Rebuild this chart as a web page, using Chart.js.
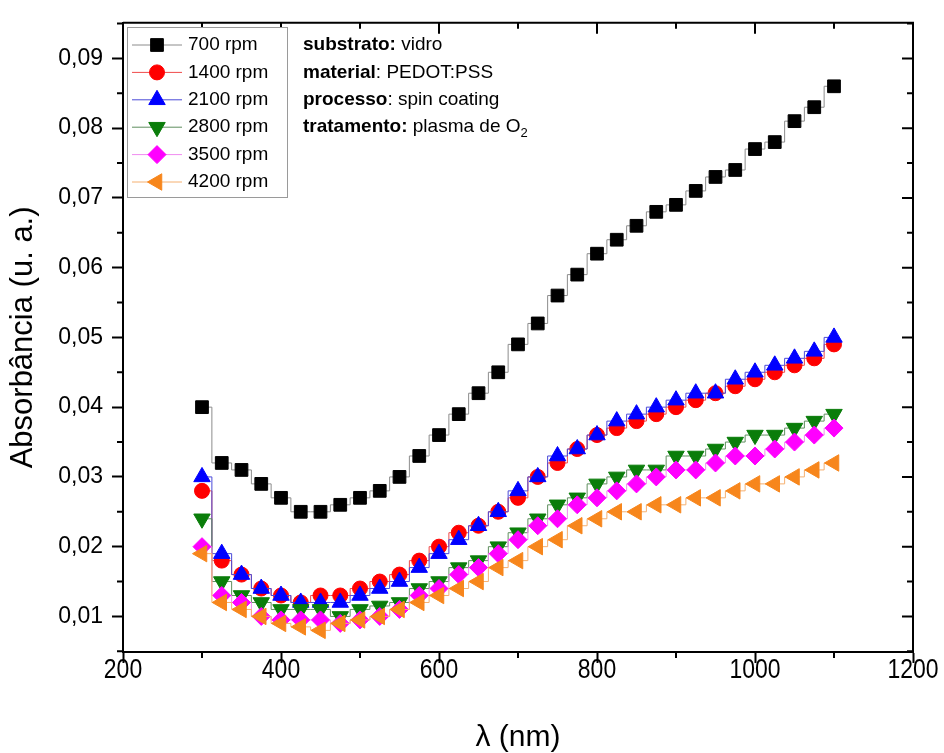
<!DOCTYPE html>
<html>
<head>
<meta charset="utf-8">
<title>Absorbância - PEDOT:PSS</title>
<script src="https://cdn.jsdelivr.net/npm/chart.js"></script>
<style>
  html, body { margin: 0; padding: 0; background: #fff; }
  #wrap { width: 944px; height: 753px; }
</style>
</head>
<body>
<div id="wrap"><canvas id="absChart" width="944" height="753"></canvas></div>
<script>
// --- values (nm, u. a.) ---
const wavelengths = [300, 325, 350, 375, 400, 425, 450, 475, 500, 525, 550, 575, 600, 625, 650, 675, 700,
                     725, 750, 775, 800, 825, 850, 875, 900, 925, 950, 975, 1000, 1025, 1050, 1075, 1100];

const abs700  = [0.040, 0.032, 0.031, 0.029, 0.027, 0.025, 0.025, 0.026, 0.027, 0.028, 0.030, 0.033, 0.036, 0.039, 0.042, 0.045, 0.049,
                 0.052, 0.056, 0.059, 0.062, 0.064, 0.066, 0.068, 0.069, 0.071, 0.073, 0.074, 0.077, 0.078, 0.081, 0.083, 0.086];
const abs1400 = [0.028, 0.018, 0.016, 0.014, 0.013, 0.012, 0.013, 0.013, 0.014, 0.015, 0.016, 0.018, 0.020, 0.022, 0.023, 0.025, 0.027,
                 0.030, 0.032, 0.034, 0.036, 0.037, 0.038, 0.039, 0.040, 0.041, 0.042, 0.043, 0.044, 0.045, 0.046, 0.047, 0.049];
const abs2100 = [0.030, 0.019, 0.016, 0.014, 0.013, 0.012, 0.012, 0.012, 0.013, 0.014, 0.015, 0.017, 0.019, 0.021, 0.023, 0.025, 0.028,
                 0.030, 0.033, 0.034, 0.036, 0.038, 0.039, 0.040, 0.041, 0.042, 0.042, 0.044, 0.045, 0.046, 0.047, 0.048, 0.050];
const abs2800 = [0.024, 0.015, 0.013, 0.012, 0.011, 0.011, 0.011, 0.010, 0.011, 0.0115, 0.012, 0.014, 0.015, 0.017, 0.018, 0.020, 0.022,
                 0.024, 0.026, 0.027, 0.029, 0.030, 0.031, 0.031, 0.033, 0.033, 0.034, 0.035, 0.036, 0.036, 0.037, 0.038, 0.039];
const abs3500 = [0.020, 0.013, 0.012, 0.010, 0.0095, 0.0095, 0.0095, 0.009, 0.0095, 0.010, 0.011, 0.013, 0.014, 0.016, 0.017, 0.019, 0.021,
                 0.023, 0.024, 0.026, 0.027, 0.028, 0.029, 0.030, 0.031, 0.031, 0.032, 0.033, 0.033, 0.034, 0.035, 0.036, 0.037];
const abs4200 = [0.019, 0.012, 0.011, 0.010, 0.009, 0.0085, 0.008, 0.009, 0.0095, 0.010, 0.011, 0.012, 0.013, 0.014, 0.015, 0.017, 0.018,
                 0.020, 0.021, 0.023, 0.024, 0.025, 0.025, 0.026, 0.026, 0.027, 0.027, 0.028, 0.029, 0.029, 0.030, 0.031, 0.032];

const seriesLabels = ['700 rpm', '1400 rpm', '2100 rpm', '2800 rpm', '3500 rpm', '4200 rpm'];
const seriesValues = [abs700, abs1400, abs2100, abs2800, abs3500, abs4200];

const xTickValues  = [200, 400, 600, 800, 1000, 1200];
const xMinorValues = [300, 500, 700, 900, 1100];
const yTickValues  = [0.01, 0.02, 0.03, 0.04, 0.05, 0.06, 0.07, 0.08, 0.09];
const yMinorValues = [0.005, 0.015, 0.025, 0.035, 0.045, 0.055, 0.065, 0.075, 0.085, 0.095];

// text block in the upper part of the plot
const infoLines = [
    [{ t: 'substrato:', b: true }, { t: ' vidro' }],
    [{ t: 'material', b: true }, { t: ': PEDOT:PSS' }],
    [{ t: 'processo', b: true }, { t: ': spin coating' }],
    [{ t: 'tratamento:', b: true }, { t: ' plasma de O' }, { t: '2', sub: true }]
];

// marker look per series (Origin-like)
const markerColors = ['#000000', '#ff0000', '#0000ff', '#0a7d0a', '#ff00ff', '#f7861c'];
const lineColors   = ['#8c8c8c', '#f04a4a', '#4a4ad8', '#5f8f5f', '#f08cf0', '#f5b070'];
const markerStyles = ['rect', 'circle', 'triangle', 'triangle', 'rectRot', 'triangle'];
const markerRot    = [0, 0, 0, 180, 0, -90];
const markerRadius = [9, 7.5, 9.5, 9.5, 9, 9.5];

const FONT = "'Liberation Sans', Arial, sans-serif";

// draws a marker (used for the hand-made legend)
function drawMarker(ctx, i, x, y) {
    ctx.fillStyle = markerColors[i];
    ctx.strokeStyle = markerColors[i];
    Chart.helpers.drawPoint(ctx, {
        pointStyle: markerStyles[i],
        rotation: markerRot[i],
        radius: markerRadius[i],
        borderWidth: 1
    }, x, y);
}

function drawRichLine(ctx, parts, x, y) {
    let cx = x;
    parts.forEach(p => {
        if (p.sub) {
            ctx.font = '13px ' + FONT;
            ctx.fillText(p.t, cx, y + 6);
        } else {
            ctx.font = (p.b ? 'bold ' : '') + '19px ' + FONT;
            ctx.fillText(p.t, cx, y);
        }
        cx += ctx.measureText(p.t).width;
    });
}

// frame, minor/inward ticks, condensed x labels, legend box and text block
const framePlugin = {
    id: 'framePlugin',
    afterDraw(chart) {
        const ctx = chart.ctx;
        const area = chart.chartArea;
        const xs = chart.scales.x;
        const ys = chart.scales.y;
        const MAJ = 11, MIN = 6;

        ctx.save();
        ctx.strokeStyle = '#000';
        ctx.lineWidth = 2;
        ctx.beginPath();
        ctx.moveTo(area.left, area.top);
        ctx.lineTo(area.right, area.top);
        ctx.lineTo(area.right, area.bottom);
        ctx.stroke();

        ctx.beginPath();
        // top ticks, pointing in
        xTickValues.forEach(v => {
            const px = xs.getPixelForValue(v);
            ctx.moveTo(px, area.top); ctx.lineTo(px, area.top + MAJ);
        });
        xMinorValues.forEach(v => {
            const px = xs.getPixelForValue(v);
            ctx.moveTo(px, area.top); ctx.lineTo(px, area.top + MIN);
            // bottom minor, pointing out
            ctx.moveTo(px, area.bottom); ctx.lineTo(px, area.bottom + MIN);
        });
        // right ticks, pointing in
        yTickValues.forEach(v => {
            const py = ys.getPixelForValue(v);
            ctx.moveTo(area.right, py); ctx.lineTo(area.right - MAJ, py);
        });
        yMinorValues.forEach(v => {
            const py = ys.getPixelForValue(v);
            ctx.moveTo(area.right, py); ctx.lineTo(area.right - MIN, py);
            // left minor, pointing out
            ctx.moveTo(area.left, py); ctx.lineTo(area.left - MIN, py);
        });
        ctx.stroke();

        // x tick labels: narrow face like the original (squeezed Liberation Sans)
        ctx.fillStyle = '#000';
        ctx.textAlign = 'center';
        ctx.textBaseline = 'middle';
        ctx.font = '28px ' + FONT;
        xTickValues.forEach(v => {
            const px = xs.getPixelForValue(v);
            ctx.save();
            ctx.translate(px, area.bottom + 18);
            ctx.scale(0.82, 1);
            ctx.fillText(String(v), 0, 0);
            ctx.restore();
        });

        // legend box
        const lx = 127, ly = 27, lw = 160, lh = 170, rowH = 27.4;
        ctx.fillStyle = '#fff';
        ctx.fillRect(lx, ly, lw, lh);
        ctx.lineWidth = 1;
        ctx.strokeStyle = '#9a9a9a';
        ctx.strokeRect(lx + 0.5, ly + 0.5, lw, lh);

        ctx.textBaseline = 'middle';
        ctx.textAlign = 'left';
        seriesLabels.forEach((lab, i) => {
            const ry = ly + 18 + i * rowH;
            ctx.strokeStyle = lineColors[i];
            ctx.lineWidth = 1;
            ctx.beginPath();
            ctx.moveTo(lx + 5, ry); ctx.lineTo(lx + 55, ry);
            ctx.stroke();
            drawMarker(ctx, i, lx + 30, ry);
            ctx.fillStyle = '#000';
            ctx.font = '19px ' + FONT;
            ctx.fillText(lab, lx + 61, ry);
        });

        // info text
        ctx.fillStyle = '#000';
        infoLines.forEach((parts, i) => {
            drawRichLine(ctx, parts, 303, ly + 18 + i * rowH);
        });
        ctx.restore();
    }
};

document.addEventListener('DOMContentLoaded', () => {
    const ctx = document.getElementById('absChart').getContext('2d');

    const datasets = seriesLabels.map((lab, i) => ({
        label: lab,
        data: wavelengths.map((w, k) => ({ x: w, y: seriesValues[i][k] })),
        borderColor: lineColors[i],
        borderWidth: 1,
        stepped: 'middle',
        backgroundColor: markerColors[i],
        pointBackgroundColor: markerColors[i],
        pointBorderColor: markerColors[i],
        pointBorderWidth: 1,
        pointStyle: markerStyles[i],
        pointRotation: markerRot[i],
        pointRadius: markerRadius[i],
        order: seriesLabels.length - i   // later series drawn on top
    }));

    new Chart(ctx, {
        type: 'line',
        data: { datasets },
        options: {
            responsive: false,
            animation: false,
            events: [],
            layout: { padding: { top: 16, right: 31, left: 0, bottom: 0 } },
            plugins: {
                legend: { display: false },
                tooltip: { enabled: false }
            },
            scales: {
                x: {
                    type: 'linear',
                    min: 200,
                    max: 1200,
                    afterBuildTicks: (scale) => { scale.ticks = xTickValues.map(v => ({ value: v })); },
                    afterFit: (scale) => { scale.height = 101; },
                    grid: { drawOnChartArea: false, tickLength: 11, tickWidth: 2, tickColor: '#000' },
                    border: { display: true, color: '#000', width: 2 },
                    ticks: { display: false },
                    title: {
                        display: true,
                        text: 'λ (nm)',
                        color: '#000',
                        font: { family: FONT, size: 30, lineHeight: 1 },
                        padding: { top: 0, bottom: 0 }
                    }
                },
                y: {
                    type: 'linear',
                    min: 0.0049,
                    max: 0.0951,
                    afterBuildTicks: (scale) => { scale.ticks = yTickValues.map(v => ({ value: v })); },
                    afterFit: (scale) => { scale.width = 123; },
                    grid: { drawOnChartArea: false, tickLength: 11, tickWidth: 2, tickColor: '#000' },
                    border: { display: true, color: '#000', width: 2 },
                    ticks: {
                        color: '#000',
                        padding: 9,
                        font: { family: FONT, size: 23 },
                        callback: (v) => v.toFixed(2).replace('.', ',')
                    },
                    title: {
                        display: true,
                        text: 'Absorbância (u. a.)',
                        color: '#000',
                        font: { family: FONT, size: 31, lineHeight: 1 },
                        padding: { top: 8, bottom: 8 }
                    }
                }
            }
        },
        plugins: [framePlugin]
    });
});
</script>
</body>
</html>
